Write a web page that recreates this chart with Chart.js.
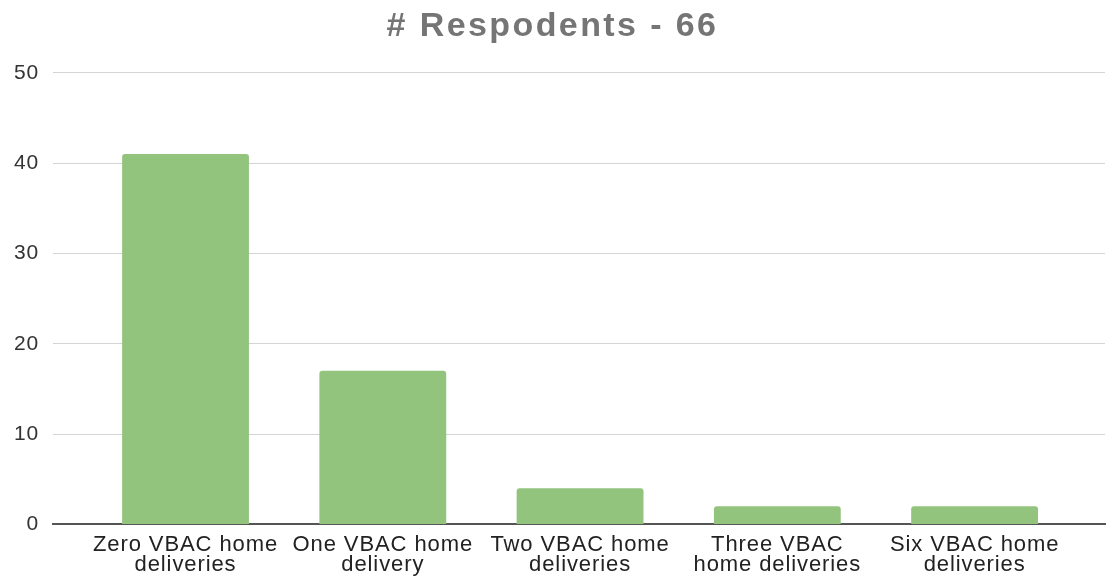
<!DOCTYPE html>
<html>
<head>
<meta charset="utf-8">
<script src="https://cdn.jsdelivr.net/npm/chart.js@4/dist/chart.umd.min.js"></script>
<style>
html,body{margin:0;padding:0;background:#fff;overflow:hidden;}
#wrap{width:1111px;height:576px;position:relative;}
</style>
</head>
<body>
<div id="wrap"><canvas id="c"></canvas></div>
<script>
const titleText = "# Respodents - 66";
const categories = [
  ["Zero VBAC home", "deliveries"],
  ["One VBAC home", "delivery"],
  ["Two VBAC home", "deliveries"],
  ["Three VBAC", "home deliveries"],
  ["Six VBAC home", "deliveries"]
];
const respondents = [41, 17, 4, 2, 2];
const yTicks = [0, 10, 20, 30, 40, 50];

const points = respondents.map((v, i) => ({x: i, y: v}));

// Reference text is set slightly wider than Arial: add a little letter spacing.
const spacingPlugin = {
  id: 'spacing',
  beforeLayout(chart) { chart.ctx.letterSpacing = '0.9px'; },
  beforeDraw(chart) {
    chart.ctx.letterSpacing = '0.9px';
    const tb = chart.titleBlock;
    if (tb && !tb._patched) {
      const orig = tb.draw.bind(tb);
      tb.draw = function (area) {
        const ctx = chart.ctx;
        const prev = ctx.letterSpacing;
        ctx.letterSpacing = '2.4px';
        orig(area);
        ctx.letterSpacing = prev;
      };
      tb._patched = true;
    }
  }
};

new Chart(document.getElementById('c'), {
  type: 'bar',
  data: {
    datasets: [{
      label: '# Respondents',
      data: points,
      backgroundColor: '#93c47d',
      borderRadius: 3,
      categoryPercentage: 1,
      barPercentage: 0.643
    }]
  },
  plugins: [spacingPlugin],
  options: {
    responsive: true,
    maintainAspectRatio: false,
    animation: false,
    layout: {padding: {left: 0, right: 6, top: 0, bottom: -10}},
    plugins: {
      legend: {display: false},
      tooltip: {enabled: false},
      title: {
        display: true,
        text: titleText,
        color: '#757575',
        font: {family: 'Liberation Sans, Arial, sans-serif', size: 34, weight: 'bold'},
        padding: {top: 6, bottom: 26}
      }
    },
    scales: {
      x: {
        type: 'linear',
        min: -0.671,
        max: 4.661,
        offset: false,
        afterBuildTicks: (axis) => { axis.ticks = categories.map((c, i) => ({value: i})); },
        ticks: {
          autoSkip: false,
          maxRotation: 0,
          color: '#222',
          padding: 11,
          font: {family: 'Liberation Sans, Arial, sans-serif', size: 22, lineHeight: 0.9},
          callback: (v) => categories[v]
        },
        grid: {display: false, drawTicks: false},
        border: {display: true, color: '#555', width: 2}
      },
      y: {
        min: 0,
        max: 50,
        afterBuildTicks: (axis) => { axis.ticks = yTicks.map(v => ({value: v})); },
        ticks: {
          color: '#333',
          padding: 14,
          font: {family: 'Liberation Sans, Arial, sans-serif', size: 21}
        },
        grid: {color: '#d4d4d4', lineWidth: 1, drawTicks: false},
        border: {display: false}
      }
    }
  }
});
</script>
</body>
</html>
